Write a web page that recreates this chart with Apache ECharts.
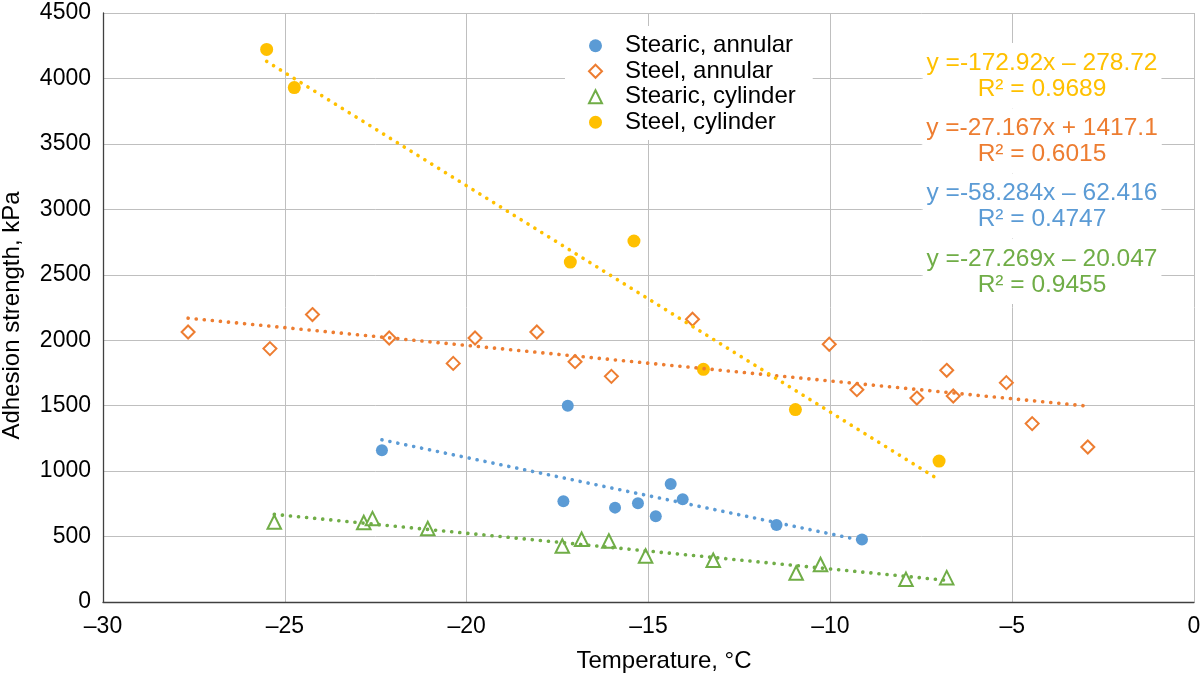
<!DOCTYPE html>
<html>
<head>
<meta charset="utf-8">
<script src="https://cdn.jsdelivr.net/npm/echarts@6/dist/echarts.min.js"></script>
<style>
html,body{margin:0;padding:0;background:#fff;}
#chart{width:1203px;height:675px;}
</style>
</head>
<body>
<div id="chart"></div>
<script>
// ---- data ----
var seriesNames = ['Stearic, annular', 'Steel, annular', 'Stearic, cylinder', 'Steel, cylinder'];

var stearicAnnularX = [-22.33, -17.22, -17.34, -15.92, -15.29, -14.80, -14.39, -14.06, -11.48, -9.13];
var stearicAnnularY = [1159, 1500, 769, 721, 754, 655, 902, 785, 588, 477];

var steelAnnularX = [-27.66, -25.41, -24.24, -22.13, -20.37, -19.77, -18.07, -17.02, -16.02, -13.79, -10.03, -9.27, -7.62, -6.80, -6.62, -5.16, -4.45, -2.92];
var steelAnnularY = [2063, 1936, 2196, 2017, 1823, 2017, 2063, 1836, 1724, 2160, 1969, 1622, 1558, 1770, 1574, 1676, 1363, 1184];

var stearicCylX = [-25.29, -22.83, -22.59, -21.07, -17.37, -16.84, -16.09, -15.08, -13.22, -10.94, -10.27, -7.92, -6.80];
var stearicCylY = [611, 607, 637, 561, 428, 479, 466, 351, 319, 222, 286, 173, 186];

var steelCylX = [-25.50, -24.74, -17.15, -15.40, -13.49, -10.96, -7.01];
var steelCylY = [4222, 3930, 2597, 2758, 1778, 1470, 1077];

// trendline coefficients (from the chart's equations): y = slope*x + intercept
var trendSlope = [-58.284, -27.167, -27.269, -172.92];
var trendIntercept = [-62.416, 1417.1, -20.047, -278.72];
var trendEquations = ['y =-58.284x \u2013 62.416', 'y =-27.167x + 1417.1', 'y =-27.269x \u2013 20.047', 'y =-172.92x \u2013 278.72'];
var trendR2 = ['R\u00b2 = 0.4747', 'R\u00b2 = 0.6015', 'R\u00b2 = 0.9455', 'R\u00b2 = 0.9689'];

var xTicks = [-30, -25, -20, -15, -10, -5, 0];
var yTicks = [0, 500, 1000, 1500, 2000, 2500, 3000, 3500, 4000, 4500];

// ---- build ----
var colors = ['#5B9BD5', '#ED7D31', '#70AD47', '#FFC000'];
var xs = [stearicAnnularX, steelAnnularX, stearicCylX, steelCylX];
var ys = [stearicAnnularY, steelAnnularY, stearicCylY, steelCylY];
function pairs(x, y) { return x.map(function (v, i) { return [v, y[i]]; }); }

var font = 'Liberation Sans, Arial, sans-serif';
var symbolDefs = [
  {symbol: 'circle', size: 12, itemStyle: {color: colors[0], opacity: 1}},
  {symbol: 'diamond', size: 13, itemStyle: {color: '#fff', borderColor: colors[1], borderWidth: 2, opacity: 1}},
  {symbol: 'triangle', size: 13.5, itemStyle: {color: '#fff', borderColor: colors[2], borderWidth: 2, opacity: 1}},
  {symbol: 'circle', size: 13, itemStyle: {color: colors[3], opacity: 1}}
];

var series = [];
for (var i = 0; i < 4; i++) {
  series.push({
    name: seriesNames[i],
    type: 'scatter',
    data: pairs(xs[i], ys[i]),
    symbol: symbolDefs[i].symbol,
    symbolSize: symbolDefs[i].size,
    itemStyle: symbolDefs[i].itemStyle,
    z: 3
  });
}
for (var j = 0; j < 4; j++) {
  var x0 = Math.min.apply(null, xs[j]);
  var x1 = Math.max.apply(null, xs[j]);
  series.push({
    name: seriesNames[j] + ' trend',
    type: 'line',
    data: [[x0, trendSlope[j] * x0 + trendIntercept[j]], [x1, trendSlope[j] * x1 + trendIntercept[j]]],
    symbol: 'none',
    silent: true,
    lineStyle: {color: colors[j], width: 3.6, type: [0.1, 8], cap: 'round', opacity: 1},
    z: 4
  });
}

// equation labels, stacked top to bottom: yellow, orange, blue, green
var labelOrder = [3, 1, 0, 2];
var graphics = labelOrder.map(function (k, n) {
  return {
    type: 'text',
    x: 1042,
    y: 43 + n * 65.3,
    z: 10,
    style: {
      text: trendEquations[k] + '\n' + trendR2[k],
      fill: colors[k],
      font: '24.5px ' + font,
      lineHeight: 26,
      align: 'center',
      verticalAlign: 'top',
      backgroundColor: '#fff',
      padding: [7, 4, 6, 4]
    }
  };
});

var option = {
  backgroundColor: '#fff',
  animation: false,
  grid: {left: 103, right: 9, top: 13, bottom: 73, containLabel: false, outerBoundsMode: 'none'},
  xAxis: {
    type: 'value',
    min: -30, max: 0, interval: 5,
    name: 'Temperature, \u00b0C',
    nameLocation: 'middle',
    nameGap: 47,
    nameTextStyle: {fontFamily: font, fontSize: 24, color: '#000', padding: [0, 0, 0, 31]},
    axisLine: {show: true, onZero: false, lineStyle: {color: '#404040', width: 1.3}},
    axisTick: {show: false},
    axisLabel: {
      fontFamily: font, fontSize: 23, color: '#000', margin: 13,
      formatter: function (v) { return (v < 0 ? '\u2013' + Math.abs(v) : String(v)); }
    },
    splitLine: {show: true, lineStyle: {color: '#bfbfbf', width: 1}}
  },
  yAxis: {
    type: 'value',
    min: 0, max: 4500, interval: 500,
    name: 'Adhesion strength, kPa',
    nameLocation: 'middle',
    nameGap: 79,
    nameTextStyle: {fontFamily: font, fontSize: 24, color: '#000', padding: [0, 16, 0, 0]},
    axisLine: {show: true, onZero: false, lineStyle: {color: '#404040', width: 1.3}},
    axisTick: {show: false},
    axisLabel: {fontFamily: font, fontSize: 23, color: '#000', margin: 12,
      formatter: function (v) { return String(v); }},
    splitLine: {show: true, lineStyle: {color: '#bfbfbf', width: 1}}
  },
  legend: {
    data: seriesNames.map(function (n, i) {
      return {name: n, icon: symbolDefs[i].symbol, itemStyle: symbolDefs[i].itemStyle};
    }),
    orient: 'vertical',
    left: 565,
    top: 26,
    itemWidth: 13,
    itemHeight: 13,
    itemGap: 0,
    backgroundColor: '#fff',
    padding: [7, 17, 5, 23],
    textStyle: {fontFamily: font, fontSize: 24, color: '#000', lineHeight: 25.5, padding: [0, 0, 0, 18]},
    z: 10
  },
  graphic: graphics,
  series: series
};

var chart = echarts.init(document.getElementById('chart'), null, {renderer: 'canvas'});
chart.setOption(option);
</script>
</body>
</html>
